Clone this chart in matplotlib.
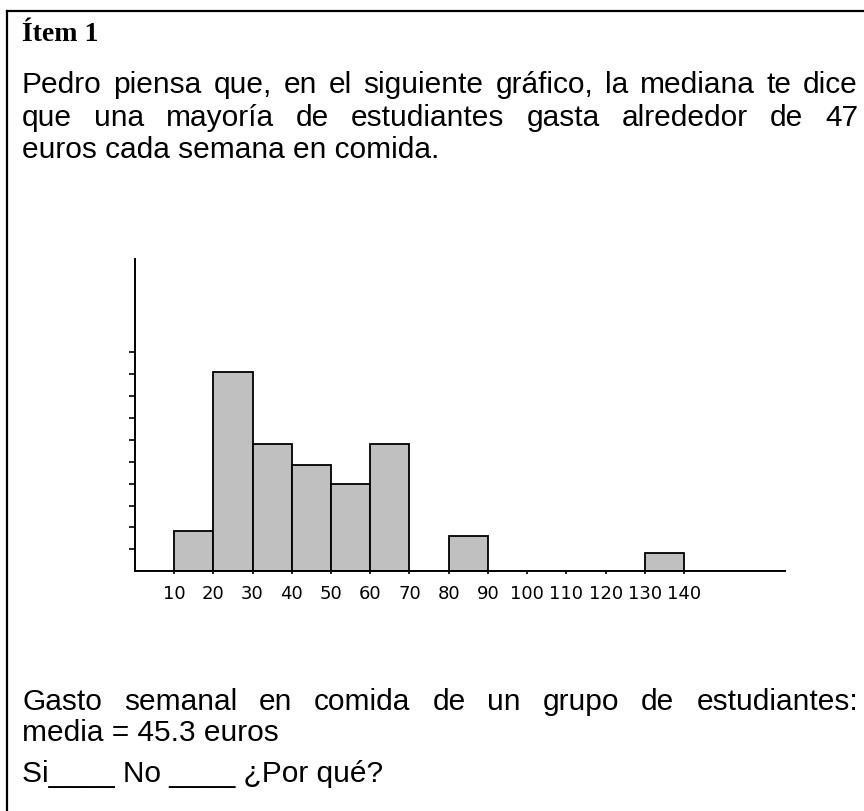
import matplotlib
matplotlib.use("Agg")
import matplotlib.pyplot as plt
from matplotlib.lines import Line2D

# ---------------- data ----------------
bin_starts = [10, 20, 30, 40, 50, 60, 80, 130]
bin_heights = [1.85, 9.1, 5.8, 4.85, 4.0, 5.8, 1.62, 0.84]
bin_width = 10
x_ticks = [10, 20, 30, 40, 50, 60, 70, 80, 90, 100, 110, 120, 130, 140]
x_tick_labels = [str(v) for v in x_ticks]
y_ticks = [1, 2, 3, 4, 5, 6, 7, 8, 9, 10]

title_text = "Ítem 1"
intro_lines = [
    ("Pedro piensa que, en el siguiente gráfico, la mediana te dice", True),
    ("que una mayoría de estudiantes gasta alrededor de 47", True),
    ("euros cada semana en comida.", False),
]
caption_lines = [
    ("Gasto semanal en comida de un grupo de estudiantes:", True),
    ("media = 45.3 euros", False),
]
question_text = "Si____ No ____ ¿Por qué?"

# ---------------- figure ----------------
W, H = 864, 812
DPI = 100
fig = plt.figure(figsize=(W / DPI, H / DPI), dpi=DPI)
fig.patch.set_facecolor("white")


def fx(px):
    return px / W


def fy(py):
    return 1 - py / H


# border of the item box
fig.add_artist(Line2D([fx(7), fx(7)], [fy(12), fy(H + 5)], color="black", lw=1.6,
                      transform=fig.transFigure))
fig.add_artist(Line2D([fx(7), fx(W + 5)], [fy(12), fy(12)], color="black", lw=1.6,
                      transform=fig.transFigure))

renderer = fig.canvas.get_renderer()


def draw_line(text, y_base, justify, x0=22, x1=858, **kw):
    if not justify:
        fig.text(fx(x0), fy(y_base), text, ha="left", va="baseline", **kw)
        return
    words = text.split(" ")
    objs = [fig.text(0, fy(y_base), w, ha="left", va="baseline", **kw) for w in words]
    widths = [o.get_window_extent(renderer).width for o in objs]
    gap = (x1 - x0 - sum(widths)) / (len(words) - 1)
    x = x0
    for o, w in zip(objs, widths):
        o.set_x(fx(x))
        x += w + gap


# title
fig.text(fx(22), fy(41), title_text, ha="left", va="baseline",
         family=["Liberation Serif", "DejaVu Serif"], weight="bold", fontsize=20)

body_font = dict(family=["Liberation Sans", "DejaVu Sans"], fontsize=21.5, color="black")

for (line, just), yb in zip(intro_lines, [93, 126, 158]):
    draw_line(line, yb, just, **body_font)

for (line, just), yb in zip(caption_lines, [710, 741]):
    draw_line(line, yb, just, **body_font)
draw_line(question_text, 782, False, **body_font)

# ---------------- histogram ----------------
ax_left, ax_right = 134.8, 785
ax_top, ax_bottom = 260, 572.3
ax = fig.add_axes([fx(ax_left), fy(ax_bottom), (ax_right - ax_left) / W,
                   (ax_bottom - ax_top) / H])
ax.set_xlim(0, 165.7)
ax.set_ylim(0, 14.25)
ax.bar(bin_starts, bin_heights, width=bin_width, align="edge",
       facecolor="#c0c0c0", edgecolor="black", linewidth=1.3, zorder=2)

for side in ["top", "right"]:
    ax.spines[side].set_visible(False)
for side in ["left", "bottom"]:
    ax.spines[side].set_linewidth(1.4)
    ax.spines[side].set_zorder(3)

ax.set_xticks(x_ticks)
ax.set_xticklabels(x_tick_labels, family="DejaVu Sans", fontsize=13)
ax.set_yticks(y_ticks)
ax.set_yticklabels([])
ax.tick_params(axis="x", direction="out", length=2.5, width=1.2, pad=7, colors="black")
ax.tick_params(axis="y", direction="out", length=4.5, width=1.2, colors="black")
ax.set_facecolor("white")

fig.savefig("out.png", dpi=DPI, facecolor="white")
